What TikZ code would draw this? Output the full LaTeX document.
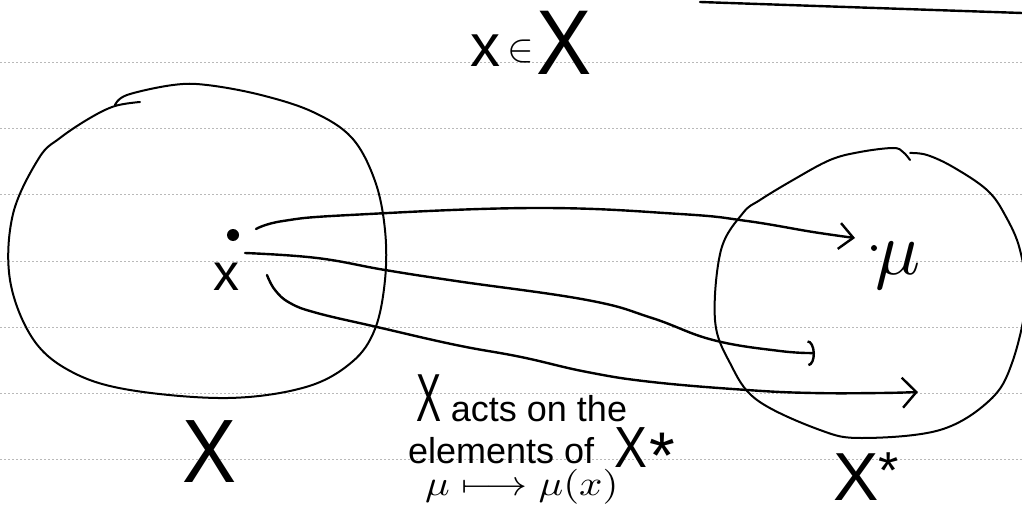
\documentclass[tikz,border=0pt]{standalone}
\usepackage{fontspec}
\setmainfont{Liberation Sans}
\usepackage{graphicx}
\usetikzlibrary{arrows.meta}
\begin{document}
\begin{tikzpicture}[x=1pt,y=-1pt,
  ink/.style={line width=2.4pt, line cap=round, line join=round},
  rim/.style={line width=2pt, line cap=round, line join=round},
  rule/.style={gray!55, line width=0.9pt, dash pattern=on 1.5pt off 2.5pt},
  hand/.style={inner sep=0pt, outer sep=0pt}]
\fill[white] (0,0) rectangle (1022,505);
\useasboundingbox (0,0) rectangle (1022,505);
% ruled paper
\foreach \y in {62,128,194,261,327,393,459} \draw[rule] (0,\y) -- (1022,\y);
% top right stroke
\coordinate (tl) at (700,2);
\coordinate (tr) at (1022,13);
\draw[ink] (tl) -- (tr);
% heading x in X
\node[hand, anchor=base, font=\fontsize{60}{60}\selectfont] (xs) at (485,67) {x};
\node[hand, anchor=base] (in) at (521,62) {\scalebox{4}{$\in$}};
\node[hand, anchor=base, font=\fontsize{92}{92}\selectfont] (Xtop) at (564,75) {\scalebox{0.9}[1]{X}};
% left set
\draw[rim] plot[smooth, tension=0.6] coordinates {(115,105) (127,95) (173,85) (207,85) (261,95) (313,112) (352,138) (375,181) (385,230) (385,280) (375,329) (352,362) (306,387) (228,398) (130,390) (72,372) (33,339) (10,280) (13,214) (39,158) (60,138) (90,118) (115,106) (140,102)};
% right set
\draw[rim] plot[smooth, tension=0.6] coordinates {(910,153) (927,155) (953,167) (987,190) (1005,215) (1020,250) (1026,300) (1012,363) (990,400) (940,430) (862,438) (820,430) (757,400) (730,363) (715,320) (721,250) (743,213) (760,200) (793,180) (830,160) (860,152) (893,148) (903,152) (910,160)};
% point x
\node[circle, fill=black, inner sep=0pt, minimum width=10pt, minimum height=12pt] (p) at (233,235) {};
\node[hand, anchor=base, font=\fontsize{52}{52}\selectfont] (xl) at (226,290) {x};
% point mu
\node[circle, fill=black, inner sep=0pt, minimum size=6pt] (q) at (874,248) {};
\node[hand, anchor=base] (mu) at (898,274) {\scalebox{7.5}{$\mu$}};
% connectors
\coordinate (s1) at (256,229); \coordinate (e1) at (855,238);
\coordinate (s2) at (245,253); \coordinate (e2) at (815,353);
\coordinate (s3) at (267,275); \coordinate (e3) at (918,392);
\draw[ink, -{Straight Barb[length=14pt,width=26pt]}] plot[smooth, tension=0.7] coordinates {(s1) (283,221) (350,215) (535,208) (680,214) (747,221) (813,232) (e1)};
\draw[ink, -{Arc Barb[length=7pt,width=26pt]}] plot[smooth, tension=0.7] coordinates {(s2) (317,258) (385,270) (456,281) (587,300) (652,318) (713,340) (780,351) (e2)};
\draw[ink, -{Straight Barb[length=14pt,width=30pt]}] plot[smooth, tension=0.7] coordinates {(s3) (275,290) (290,303) (317,313) (377,327) (456,345) (521,357) (587,372) (652,382) (747,390) (813,393) (880,393) (e3)};
% set labels
\node[hand, anchor=base, font=\fontsize{90}{90}\selectfont] (XL) at (210,482) {\scalebox{0.9}[1]{X}};
\node[hand, anchor=base west, font=\fontsize{68}{68}\selectfont] (XR) at (833,500) {X{\fontsize{52}{52}\selectfont\raisebox{12pt}{*}}};
% note
\node[hand, anchor=base west, font=\fontsize{36}{36}\selectfont] (n1) at (416,421) {{\fontsize{68}{68}\selectfont\scalebox{0.55}[1]{X}} acts on the};
\node[hand, anchor=base west, font=\fontsize{36}{36}\selectfont] (n2) at (408,463) {elements of\hspace{20pt}{\fontsize{58}{58}\selectfont\raisebox{-4pt}{\scalebox{0.85}[1]{X}}}\hspace{3pt}{\fontsize{66}{66}\selectfont\raisebox{-15pt}{*}}};
\node[hand, anchor=base west] (n3) at (425,495) {\scalebox{4.1}[3.5]{$\mu\longmapsto\mu(x)$}};
\end{tikzpicture}
\end{document}
